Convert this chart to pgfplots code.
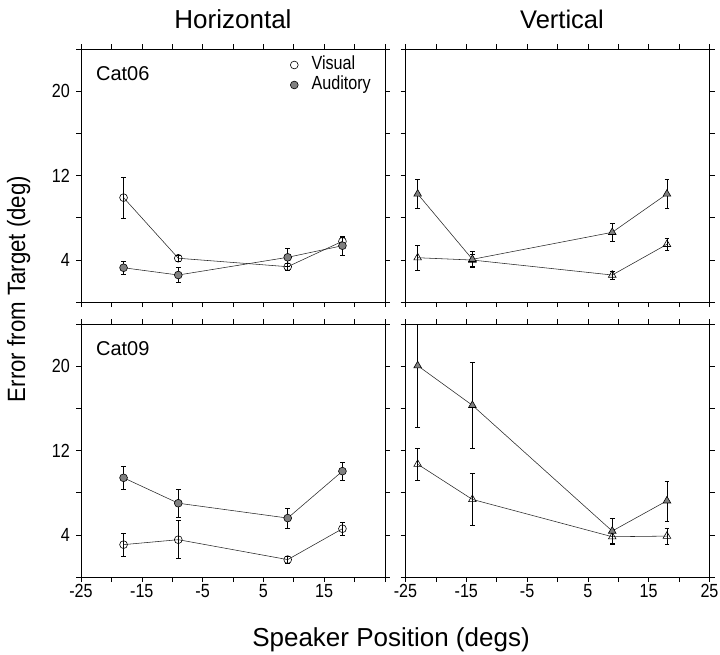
\documentclass[border=0pt]{standalone}
\usepackage{fontspec}
\setmainfont{Liberation Sans}
\newfontfamily\narrowfont{Liberation Sans}[FakeStretch=0.85]
\newfontfamily\ylabfont{Liberation Sans}[FakeStretch=0.89]
\usepackage{pgfplots}
\usepackage{pgfplotstable}
\pgfplotsset{compat=1.18}

\pgfplotstableread{
x y e
-18 9.9 1.95
-9 4.15 0.3
9 3.35 0.35
18 5.76 0.4
}\tlvis
\pgfplotstableread{
x y e
-18 3.25 0.6
-9 2.56 0.7
9 4.24 0.85
18 5.34 0.9
}\tlaud
\pgfplotstableread{
x y e
-23 4.2 1.2
-14 3.98 0.55
9 2.56 0.4
18 5.47 0.6
}\trvis
\pgfplotstableread{
x y e
-23 10.25 1.35
-14 4.05 0.8
9 6.61 0.85
18 10.25 1.35
}\traud
\pgfplotstableread{
x y e
-18 3.07 1.1
-9 3.54 1.8
9 1.65 0.3
18 4.58 0.6
}\blvis
\pgfplotstableread{
x y e
-18 9.41 1.1
-9 7.0 1.35
9 5.59 0.95
18 10.04 0.85
}\blaud
\pgfplotstableread{
x y e
-23 10.7 1.5
-14 7.36 2.45
9 3.82 0.75
18 3.88 0.75
}\brvis
\pgfplotstableread{
x y e
-23 20.05 5.8
-14 16.29 4.1
9 4.36 1.2
18 7.23 1.9
}\braud

\pgfplotsset{
  panel/.style={
    scale only axis, width=304pt, height=253pt,
    xmin=-25, xmax=25, ymin=0, ymax=24,
    xtick={-25,-20,...,25}, ytick={0,4,...,24},
    tick align=outside, major tick length=5pt,
    axis line style={line width=0.7pt},
    every tick/.style={line width=0.6pt, black},
    tick label style={font=\narrowfont\fontsize{19}{21}\selectfont, inner sep=0pt},
    xticklabel style={anchor=base, yshift=-15pt},
    yticklabel style={anchor=east, xshift=-6pt},
    xticklabels={}, yticklabels={},
    clip=true,
  },
  errs/.style={
    /pgfplots/error bars/y dir=both,
    /pgfplots/error bars/y explicit,
    /pgfplots/error bars/error bar style={line width=0.5pt, black},
    /pgfplots/error bars/error mark options={rotate=90, mark size=2.4pt, line width=0.5pt, black},
  },
  vis/.style={black!85, line width=0.55pt, mark=o, mark size=3.9pt,
    mark options={solid, line width=0.6pt, black}, errs},
  aud/.style={black!85, line width=0.55pt, mark=*, mark size=3.9pt,
    mark options={solid, line width=0.6pt, fill=black!50, draw=black}, errs},
  visT/.style={black!85, line width=0.55pt, mark=triangle, mark size=4.4pt,
    mark options={solid, line width=0.6pt, black}, errs},
  audT/.style={black!85, line width=0.55pt, mark=triangle*, mark size=4.4pt,
    mark options={solid, line width=0.6pt, fill=black!50, draw=black}, errs},
}

\begin{document}
\begin{tikzpicture}
\useasboundingbox (0pt,0pt) rectangle (720pt,-655pt);

% top left
\begin{axis}[panel, at={(81pt,-302pt)}, anchor=south west,
  yticklabels={,4,,12,,20,},
  legend image code/.code={\draw[#1] plot coordinates {(0pt,0pt)}; \path (-4pt,0pt) (16pt,0pt);},
  legend style={draw=none, fill=none, at={(rel axis cs:0.677,0.985)}, anchor=north west,
    font=\narrowfont\fontsize{19}{20}\selectfont,
    nodes={inner sep=1pt, text height=13.5pt, text depth=4.5pt}, row sep=0pt},
  legend cell align=left]
\addplot[vis] table[x=x, y=y, y error=e] {\tlvis};
\addlegendentry{Visual}
\addplot[aud] table[x=x, y=y, y error=e] {\tlaud};
\addlegendentry{Auditory}
\node[anchor=base west, font=\fontsize{20}{22}\selectfont, inner sep=0pt] at (rel axis cs:0.049,0.875) {Cat06};
\end{axis}

% top right
\begin{axis}[panel, at={(405.5pt,-302pt)}, anchor=south west]
\addplot[visT] table[x=x, y=y, y error=e] {\trvis};
\addplot[audT] table[x=x, y=y, y error=e] {\traud};
\end{axis}

% bottom left
\begin{axis}[panel, at={(81pt,-577pt)}, anchor=south west,
  xticklabels={-25,,-15,,-5,,5,,15,,},
  yticklabels={,4,,12,,20,}]
\addplot[vis] table[x=x, y=y, y error=e] {\blvis};
\addplot[aud] table[x=x, y=y, y error=e] {\blaud};
\node[anchor=base west, font=\fontsize{20}{22}\selectfont, inner sep=0pt] at (rel axis cs:0.049,0.875) {Cat09};
\end{axis}

% bottom right
\begin{axis}[panel, at={(405.5pt,-577pt)}, anchor=south west,
  xticklabels={-25,,-15,,-5,,5,,15,,25}]
\addplot[visT] table[x=x, y=y, y error=e] {\brvis};
\addplot[audT] table[x=x, y=y, y error=e] {\braud};
\end{axis}

\node[anchor=base, font=\fontsize{26}{30}\selectfont] at (233pt,-28.6pt) {Horizontal};
\node[anchor=base, font=\fontsize{25.5}{30}\selectfont] at (562pt,-28.6pt) {Vertical};
\node[anchor=base, font=\fontsize{26}{30}\selectfont] at (391pt,-646pt) {Speaker Position (degs)};
\node[anchor=base, rotate=90, font=\ylabfont\fontsize{25}{30}\selectfont] at (25pt,-289pt) {Error from Target (deg)};
\end{tikzpicture}
\end{document}
